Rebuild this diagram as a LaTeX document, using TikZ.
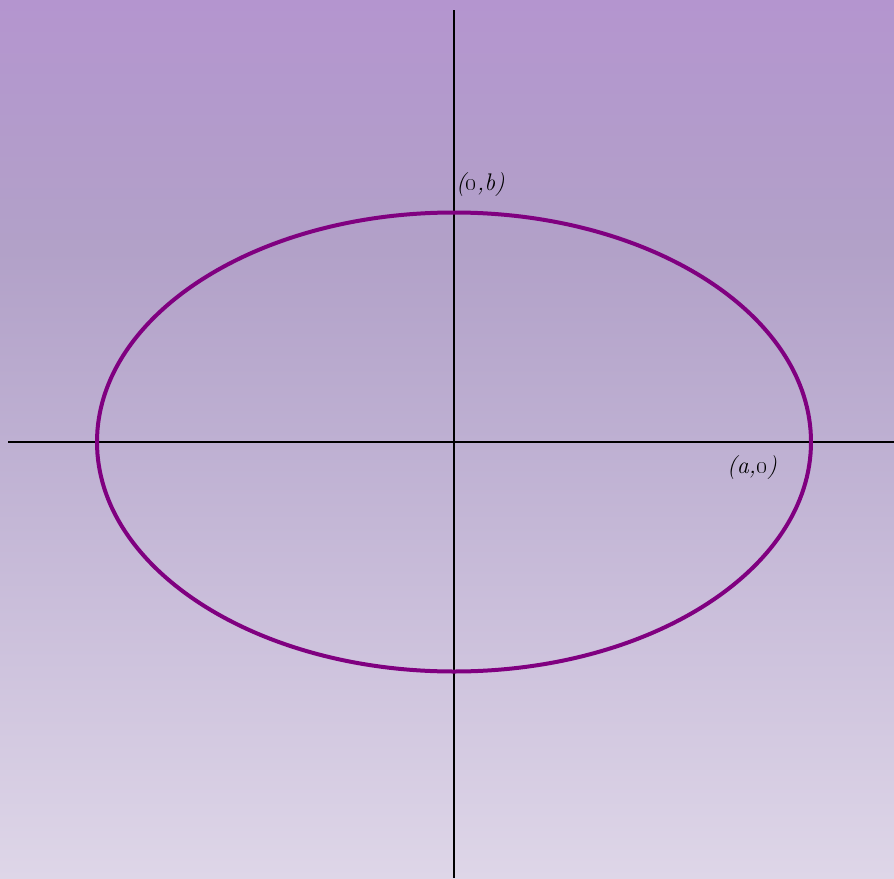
\documentclass[tikz,border=0pt]{standalone}
\definecolor{topc}{RGB}{180,149,207}
\definecolor{midc}{RGB}{178,161,200}
\definecolor{cenc}{RGB}{190,176,210}
\definecolor{botc}{RGB}{222,214,232}
\definecolor{ellc}{RGB}{128,0,128}
\pgfdeclareverticalshading{bgshade}{100bp}{color(0bp)=(botc); color(25bp)=(botc); color(49.83bp)=(cenc); color(60.76bp)=(midc); color(75bp)=(topc); color(100bp)=(topc)}
\tikzset{
  axis/.style={line width=2.5pt, black},
  ell/.style={line width=4pt, ellc},
  lbl/.style={font=\fontsize{24}{28}\selectfont\itshape, inner sep=0pt, text=black}
}
\begin{document}
\begin{tikzpicture}[x=1pt,y=-1pt]
\useasboundingbox (0,0) rectangle (894,878);
\shade[shading=bgshade] (0,0) rectangle (894,878);
\coordinate (O) at (454,442);
\coordinate (xl) at (8,442);
\coordinate (xr) at (894,442);
\coordinate (yt) at (454,10);
\coordinate (yb) at (454,878);
\draw[axis] (xl) -- (xr);
\draw[axis] (yt) -- (yb);
\draw[ell] (O) ellipse [x radius=357, y radius=229.5];
\node[lbl, anchor=west] (lb) at (456,185) {(\oldstylenums{0},b)};
\node[lbl, anchor=west] (la) at (727,468) {(a,\oldstylenums{0})};
\end{tikzpicture}
\end{document}
